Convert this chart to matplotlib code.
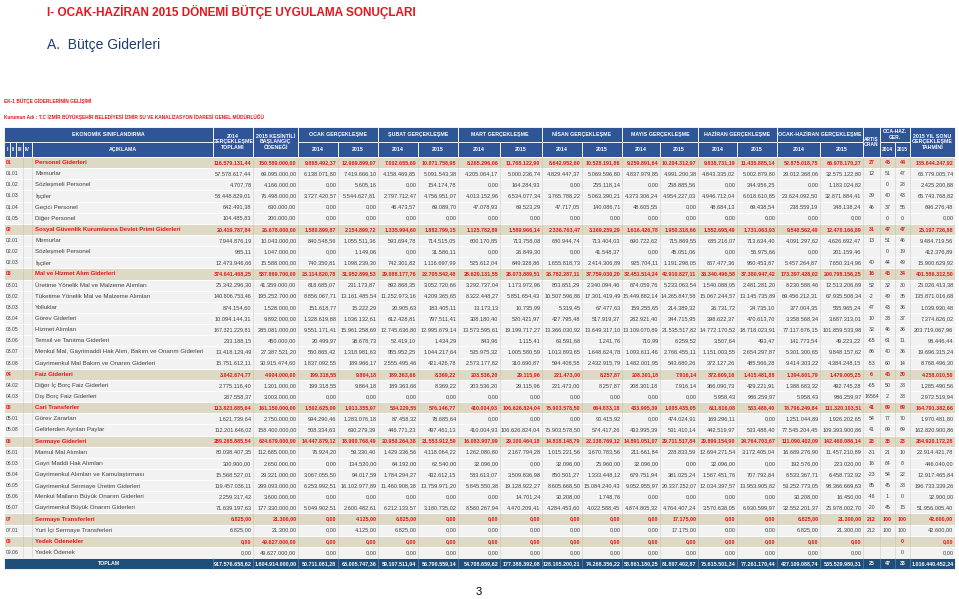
import matplotlib.pyplot as plt
from matplotlib.patches import Rectangle

plt.rcParams['font.family'] = ['Liberation Sans', 'DejaVu Sans']

title = "I- OCAK-HAZİRAN 2015 DÖNEMİ BÜTÇE UYGULAMA SONUÇLARI"
subtitle = "A.  Bütçe Giderleri"
note1 = "EK-1 BÜTÇE GİDERLERİNİN GELİŞİMİ"
note2 = ("Kurumun Adı : T.C İZMİR BÜYÜKŞEHİR BELEDİYESİ İZMİR SU VE KANALİZASYON "
         "İDARESİ GENEL MÜDÜRLÜĞÜ")

codes = ["01", "01.01", "01.02", "01.03", "01.04", "01.05",
         "02", "02.01", "02.02", "02.03",
         "03", "03.01", "03.02", "03.03", "03.04", "03.05", "03.06", "03.07", "03.08",
         "04", "04.02", "04.03",
         "05", "05.01", "05.08",
         "06", "06.01", "06.03", "06.04", "06.05", "06.06", "06.07",
         "07", "07.01", "09", "09.06"]

names = ["Personel Giderleri", "Memurlar", "Sözleşmeli Personel", "İşçiler",
         "Geçici Personel", "Diğer Personel",
         "Sosyal Güvenlik Kurumlarına Devlet Primi Giderleri", "Memurlar",
         "Sözleşmeli Personel", "İşçiler",
         "Mal ve Hizmet Alım Giderleri", "Üretime Yönelik Mal ve Malzeme Alımları",
         "Tüketime Yönelik Mal ve Malzeme Alımları", "Yolluklar", "Görev Giderleri",
         "Hizmet Alımları", "Temsil ve Tanıtma Giderleri",
         "Menkul Mal, Gayrimaddi Hak Alım, Bakım ve Onarım Giderleri",
         "Gayrimenkul Mal Bakım ve Onarım Giderleri",
         "Faiz Giderleri", "Diğer İç Borç Faiz Giderleri", "Dış Borç Faiz Giderleri",
         "Cari Transferler", "Görev Zararları", "Gelirlerden Ayrılan Paylar",
         "Sermaye Giderleri", "Mamul Mal Alımları", "Gayri Maddi Hak Alımları",
         "Gayrimenkul Alımları ve Kamulaştırması", "Gayrimenkul Sermaye Üretim Giderleri",
         "Menkul Malların Büyük Onarım Giderleri", "Gayrimenkul Büyük Onarım Giderleri",
         "Sermaye Transferleri", "Yurt İçi Sermaye Transferleri",
         "Yedek Ödenekler", "Yedek Ödenek"]

# last entry of every column is the TOPLAM row
gerc_2014 = ["116.579.131,44", "57.578.617,44", "4.707,78", "58.448.829,01", "642.491,38", "104.485,83",
             "20.419.787,84", "7.944.876,19", "985,11", "12.473.946,66",
             "374.641.468,25", "25.342.296,30", "140.806.753,46", "874.154,60", "10.094.144,31",
             "167.321.229,81", "233.188,15", "13.418.129,49", "15.751.612,11",
             "3.042.674,77", "2.775.116,40", "267.558,37",
             "113.823.885,64", "1.621.739,64", "112.201.646,02",
             "289.265.885,54", "80.038.407,35", "300.900,00", "15.568.527,01", "119.457.036,11",
             "2.259.317,42", "71.639.197,63",
             "6.825,00", "6.825,00", "0,00", "0,00",
             "917.576.658,62"]
odenek_2015 = ["150.589.000,00", "69.095.000,00", "4.166.000,00", "76.498.000,00", "630.000,00", "200.000,00",
               "26.678.000,00", "10.043.000,00", "1.047.000,00", "15.588.000,00",
               "587.869.700,00", "41.359.000,00", "195.252.700,00", "1.528.000,00", "9.892.000,00",
               "285.081.000,00", "450.000,00", "27.387.521,20", "30.915.474,60",
               "4.904.000,00", "1.301.000,00", "3.003.000,00",
               "161.150.000,00", "2.750.000,00", "158.400.000,00",
               "624.679.000,00", "112.685.000,00", "2.650.000,00", "29.321.000,00", "299.093.000,00",
               "3.600.000,00", "177.330.000,00",
               "21.300,00", "21.300,00", "49.627.000,00", "49.627.000,00",
               "1.604.914.000,00"]
ocak_2014 = ["9.865.492,37", "6.138.071,80", "0,00", "3.727.420,57", "0,00", "0,00",
             "1.580.899,87", "840.548,56", "0,00", "740.350,81",
             "23.114.820,78", "818.685,07", "8.856.067,71", "151.618,77", "1.328.619,88",
             "9.551.171,41", "20.499,97", "550.865,42", "1.837.092,55",
             "199.318,55", "199.318,55", "0,00",
             "1.502.625,09", "994.290,46", "508.334,63",
             "14.447.879,12", "76.924,20", "0,00", "3.067.055,50", "6.253.992,51", "0,00", "5.049.902,51",
             "0,00", "0,00", "0,00", "0,00",
             "50.711.081,28"]
ocak_2015 = ["12.969.899,07", "7.419.666,10", "5.605,16", "5.544.627,81", "0,00", "0,00",
             "2.154.899,72", "1.055.511,36", "1.149,06", "1.098.239,30",
             "31.952.899,53", "231.173,87", "13.161.485,54", "15.222,29", "1.036.132,61",
             "15.961.258,69", "38.678,73", "1.318.981,63", "189.966,17",
             "9.864,18", "9.864,18", "0,00",
             "1.913.355,97", "1.283.076,18", "630.279,39",
             "18.990.768,49", "59.330,40", "134.520,00", "94.017,59", "16.102.977,89", "0,00", "2.600.482,61",
             "4.125,00", "4.125,00", "0,00", "0,00",
             "68.005.747,36"]
subat_2014 = ["7.002.655,69", "4.158.469,85", "0,00", "2.797.712,47", "46.473,57", "0,00",
              "1.335.994,60", "593.694,78", "0,00", "742.301,82",
              "29.088.177,76", "892.868,35", "11.252.973,16", "20.905,63", "612.428,81",
              "12.745.636,80", "52.419,10", "955.952,25", "2.555.495,46",
              "189.363,66", "189.363,66", "0,00",
              "534.229,55", "87.458,32", "446.771,23",
              "20.950.264,38", "1.429.336,56", "64.192,00", "1.784.294,27", "11.460.908,38", "0,00", "6.212.133,57",
              "6.825,00", "6.825,00", "0,00", "0,00",
              "59.107.511,04"]
subat_2015 = ["10.071.758,98", "5.091.543,38", "154.174,78", "4.756.951,07", "69.089,70", "0,00",
              "1.882.799,15", "714.515,05", "31.586,11", "1.116.697,99",
              "22.705.542,48", "3.052.720,66", "4.209.365,65", "183.405,11", "797.511,41",
              "12.995.679,14", "1.434,29", "1.044.217,64", "421.426,78",
              "8.369,22", "8.369,22", "0,00",
              "576.146,77", "78.685,64", "497.461,13",
              "21.553.912,59", "4.118.064,22", "62.540,00", "432.612,15", "13.759.971,20", "0,00", "3.180.735,02",
              "0,00", "0,00", "0,00", "0,00",
              "56.790.559,14"]
mart_2014 = ["8.265.296,06", "4.205.064,17", "0,00", "4.013.152,96", "47.078,93", "0,00",
             "1.125.782,89", "600.170,85", "0,00", "525.612,04",
             "28.620.131,55", "3.292.737,04", "8.322.448,27", "13.173,13", "308.180,40",
             "13.573.595,61", "843,96", "535.975,32", "2.573.177,82",
             "203.536,20", "203.536,20", "0,00",
             "410.004,93", "0,00", "410.004,93",
             "16.083.907,99", "1.262.080,80", "32.096,00", "583.613,07", "5.845.550,38", "0,00", "8.560.267,94",
             "0,00", "0,00", "0,00", "0,00",
             "54.708.659,62"]
mart_2015 = ["11.768.122,90", "5.000.236,74", "164.284,93", "6.534.077,34", "69.523,29", "0,00",
             "1.589.966,14", "713.758,08", "26.849,30", "849.328,86",
             "28.073.889,51", "1.173.972,96", "5.851.654,43", "10.735,99", "520.421,97",
             "19.199.717,27", "1.115,41", "1.005.580,59", "310.690,87",
             "29.115,96", "29.115,96", "0,00",
             "106.626.824,04", "0,00", "106.626.824,04",
             "29.100.464,18", "2.167.794,28", "0,00", "3.509.836,98", "19.128.922,27", "14.701,24", "4.470.209,41",
             "0,00", "0,00", "0,00", "0,00",
             "177.388.392,08"]
nisan_2014 = ["8.642.952,60", "4.829.447,37", "0,00", "3.765.788,22", "47.717,05", "0,00",
              "2.336.763,47", "680.944,74", "0,00", "1.655.818,73",
              "26.782.287,11", "803.651,29", "10.507.596,86", "5.319,45", "427.795,48",
              "13.366.030,92", "63.591,68", "1.013.893,65", "594.408,58",
              "221.473,00", "221.473,00", "0,00",
              "75.903.578,50", "0,00", "75.903.578,50",
              "14.818.148,79", "1.015.221,56", "32.096,00", "850.501,27", "8.605.668,50", "30.208,00", "4.284.453,60",
              "0,00", "0,00", "0,00", "0,00",
              "128.105.200,21"]
nisan_2015 = ["10.528.191,86", "5.069.596,80", "255.118,14", "5.063.390,21", "140.086,71", "0,00",
              "3.169.259,29", "713.404,03", "41.548,37", "2.414.306,89",
              "37.759.030,20", "2.340.094,46", "17.301.419,49", "67.477,63", "517.919,37",
              "13.649.317,10", "1.241,76", "1.648.624,78", "2.432.915,79",
              "8.257,87", "8.257,87", "0,00",
              "664.833,18", "90.415,92", "574.417,26",
              "22.138.769,12", "3.670.783,56", "25.960,00", "1.333.448,12", "15.084.240,43", "1.748,76", "4.022.588,45",
              "0,00", "0,00", "0,00", "0,00",
              "74.268.356,22"]
mayis_2014 = ["9.259.891,64", "4.837.979,85", "0,00", "4.373.306,24", "48.605,55", "0,00",
              "1.616.426,78", "690.722,62", "0,00", "925.704,11",
              "32.451.514,24", "874.059,76", "15.449.882,14", "159.255,65", "282.921,40",
              "13.109.070,89", "710,99", "1.093.611,46", "1.482.001,95",
              "208.301,18", "208.301,18", "0,00",
              "433.995,39", "0,00", "433.995,39",
              "14.891.051,07", "211.661,84", "32.096,00", "679.751,94", "9.052.955,97", "0,00", "4.874.805,32",
              "0,00", "0,00", "0,00", "0,00",
              "58.861.180,25"]
mayis_2015 = ["10.204.312,97", "4.991.200,38", "258.885,56", "4.954.227,03", "0,00", "0,00",
              "1.950.318,66", "715.869,55", "45.051,06", "1.191.298,05",
              "42.910.827,11", "5.233.063,54", "14.265.847,58", "214.389,32", "344.715,95",
              "21.535.517,82", "6.259,52", "2.766.455,11", "543.680,26",
              "7.916,14", "7.916,14", "0,00",
              "1.005.435,05", "474.024,91", "531.410,14",
              "29.711.517,84", "228.833,59", "0,00", "381.025,24", "20.337.252,07", "0,00", "4.764.407,24",
              "17.175,00", "17.175,00", "0,00", "0,00",
              "81.807.402,87"]
haziran_2014 = ["9.838.731,19", "4.843.335,02", "0,00", "4.946.712,04", "48.684,13", "0,00",
                "1.552.695,49", "685.216,07", "0,00", "867.477,36",
                "33.340.496,58", "1.540.088,05", "15.067.244,57", "26.731,72", "398.622,37",
                "14.772.170,52", "3.507,64", "1.151.003,55", "372.127,26",
                "372.609,16", "366.090,73", "5.958,43",
                "611.816,08", "169.296,11", "442.519,97",
                "29.899.154,90", "12.694.271,54", "32.096,00", "1.567.451,76", "12.034.397,57", "0,00", "3.570.638,05",
                "0,00", "0,00", "0,00", "0,00",
                "75.615.501,34"]
haziran_2015 = ["11.435.885,14", "5.002.879,80", "344.956,25", "6.018.610,85", "69.438,54", "0,00",
                "1.731.063,93", "713.634,40", "56.975,66", "960.453,87",
                "37.380.947,42", "2.481.281,20", "13.145.735,89", "24.735,10", "470.613,70",
                "18.718.023,91", "493,47", "2.654.297,87", "485.566,28",
                "1.415.481,88", "429.221,91", "986.259,97",
                "533.488,40", "0,00", "533.488,40",
                "24.764.703,67", "3.172.405,04", "0,00", "707.792,84", "13.953.905,82", "0,00", "6.930.599,97",
                "0,00", "0,00", "0,00", "0,00",
                "77.261.170,44"]
oh_2014 = ["52.875.018,75", "29.012.368,06", "0,00", "23.624.092,50", "238.559,19", "0,00",
           "9.548.562,49", "4.091.297,62", "0,00", "5.457.264,87",
           "173.397.428,02", "8.230.588,46", "69.456.212,31", "377.004,35", "3.358.568,34",
           "77.117.676,15", "141.773,54", "5.301.300,65", "9.414.303,22",
           "1.394.601,79", "1.388.683,32", "5.958,43",
           "78.796.249,84", "1.251.044,89", "77.545.204,45",
           "111.090.402,09", "16.689.276,90", "192.576,00", "8.533.367,71", "53.252.773,05", "30.208,00", "32.552.201,37",
           "6.825,00", "6.825,00", "0,00", "0,00",
           "427.109.088,74"]
oh_2015 = ["66.978.170,27", "32.575.122,80", "1.183.024,82", "32.871.884,41", "348.138,24", "0,00",
           "12.478.166,89", "4.626.692,47", "201.159,46", "7.650.314,96",
           "200.798.156,25", "12.513.206,69", "67.935.508,34", "555.965,24", "3.687.313,01",
           "101.859.533,98", "49.223,22", "9.848.157,62", "4.384.248,15",
           "1.479.005,25", "492.745,28", "986.259,97",
           "111.320.103,51", "1.926.202,65", "109.393.900,86",
           "142.460.086,14", "11.457.210,89", "223.020,00", "6.458.732,92", "98.366.669,63", "16.450,00", "25.978.002,70",
           "21.300,00", "21.300,00", "0,00", "0,00",
           "535.529.980,31"]
artis = ["27", "12", "", "39", "46", "", "31", "13", "", "40",
         "16", "52", "-2", "47", "10", "32", "-65", "86", "-53",
         "6", "-65", "16564", "41", "54", "41",
         "28", "-31", "16", "-23", "85", "-46", "-20",
         "212", "212", "", "", "25"]
ger_2014 = ["45", "51", "0", "40", "37", "0", "47", "51", "0", "44",
            "46", "32", "49", "43", "33", "46", "61", "40", "60",
            "46", "50", "2", "69", "77", "69",
            "38", "21", "64", "54", "45", "1", "45",
            "100", "100", "", "", "47"]
ger_2015 = ["44", "47", "28", "43", "55", "0", "47", "46", "19", "49",
            "34", "30", "35", "36", "37", "36", "11", "36", "14",
            "30", "38", "33", "69", "70", "69",
            "23", "10", "8", "22", "33", "0", "15",
            "100", "100", "0", "0", "33"]
tahmin = ["135.644.247,92", "66.779.005,74", "2.425.200,88", "65.743.768,82", "696.276,48", "0,00",
          "25.197.726,88", "9.484.719,56", "412.376,89", "15.900.629,92",
          "401.586.312,50", "25.026.413,38", "135.871.016,68", "1.039.930,48", "7.374.626,02",
          "203.719.067,96", "98.446,44", "19.696.315,24", "8.768.496,30",
          "4.258.010,50", "1.285.490,56", "2.972.519,94",
          "164.791.382,66", "1.970.481,80", "162.820.900,86",
          "284.920.172,28", "22.914.421,78", "446.040,00", "12.917.465,84", "196.733.339,26",
          "32.900,00", "51.956.005,40",
          "42.600,00", "42.600,00", "0,00", "0,00",
          "1.016.440.452,24"]

months = ["OCAK", "ŞUBAT", "MART", "NİSAN", "MAYIS", "HAZİRAN", "OCAK-HAZİRAN"]

columns = [gerc_2014, odenek_2015, ocak_2014, ocak_2015, subat_2014, subat_2015,
           mart_2014, mart_2015, nisan_2014, nisan_2015, mayis_2014, mayis_2015,
           haziran_2014, haziran_2015, oh_2014, oh_2015, artis, ger_2014, ger_2015, tahmin]

# layout in pixels
edges = [213, 253, 298, 338, 378, 418, 458, 500, 542, 582, 622, 660, 698, 737,
         777, 820, 863, 880, 895, 910, 955]
left = 4
head_top, head_mid, head_bot = 127, 142, 157
row_h = 11.14

head_blue = '#2f5597'
total_blue = '#1f4e79'
beige = '#ddd9c4'
light = '#f2f2f2'
red = '#e8141b'
grey_txt = '#404040'

fig = plt.figure(figsize=(9.59, 5.99), dpi=100)
ax = fig.add_axes([0, 0, 1, 1])
ax.set_xlim(0, 959)
ax.set_ylim(599, 0)
ax.axis('off')


def box(x0, x1, y0, y1, fc, ec='white', lw=0.6):
    ax.add_patch(Rectangle((x0, y0), x1 - x0, y1 - y0, facecolor=fc,
                           edgecolor=ec, linewidth=lw))


def htext(x0, x1, y0, y1, s, size=3.8):
    ax.text((x0 + x1) / 2, (y0 + y1) / 2, s, color='white', fontsize=size,
            fontweight='bold', ha='center', va='center', linespacing=1.15)


def fit(s, width, base):
    # rough Arial-like widths, shrink a number only when it would spill over its cell
    em = sum(0.278 if c in '.,' else 0.556 for c in s)
    if em == 0:
        return base
    return min(base, (width - 2.5) / (em * 100 / 72))


# titles
ax.text(47, 12, title, fontsize=8.5, fontweight='bold', color=red, va='center')
ax.text(47, 45, subtitle, fontsize=10, color='#1f3b73', va='center')
ax.text(4, 101, note1, fontsize=3.4, fontweight='bold', color=red, va='center')
ax.text(4, 117, note2, fontsize=3.4, fontweight='bold', color=red, va='center')
ax.text(479, 592, "3", fontsize=8, color='black', ha='center', va='center')

# header
box(left, edges[0], head_top, head_mid, head_blue)
htext(left, edges[0], head_top, head_mid, "EKONOMİK SINIFLANDIRMA")
for a, b, s in [(4, 10, "I"), (10, 16, "II"), (16, 23, "III"), (23, 32, "IV"), (32, 213, "AÇIKLAMA")]:
    box(a, b, head_mid, head_bot, head_blue)
    htext(a, b, head_mid, head_bot, s)
box(edges[0], edges[1], head_top, head_bot, head_blue)
htext(edges[0], edges[1], head_top, head_bot, "2014\nGERÇEKLEŞME\nTOPLAMI")
box(edges[1], edges[2], head_top, head_bot, head_blue)
htext(edges[1], edges[2], head_top, head_bot, "2015 KESİNTİLİ\nBAŞLANGIÇ\nÖDENEĞİ")
for k, m in enumerate(months):
    x0, xm, x1 = edges[2 + 2 * k], edges[3 + 2 * k], edges[4 + 2 * k]
    box(x0, x1, head_top, head_mid, head_blue)
    htext(x0, x1, head_top, head_mid, m + " GERÇEKLEŞME")
    box(x0, xm, head_mid, head_bot, head_blue)
    htext(x0, xm, head_mid, head_bot, "2014")
    box(xm, x1, head_mid, head_bot, head_blue)
    htext(xm, x1, head_mid, head_bot, "2015")
box(edges[16], edges[17], head_top, head_bot, head_blue)
htext(edges[16], edges[17], head_top, head_bot, "ARTIŞ\nORAN", size=3.5)
box(edges[17], edges[19], head_top, head_mid, head_blue)
htext(edges[17], edges[19], head_top, head_mid, "OCA-HAZ.\nGER.", size=3.5)
box(edges[17], edges[18], head_mid, head_bot, head_blue)
htext(edges[17], edges[18], head_mid, head_bot, "2014", size=3.5)
box(edges[18], edges[19], head_mid, head_bot, head_blue)
htext(edges[18], edges[19], head_mid, head_bot, "2015", size=3.5)
box(edges[19], edges[20], head_top, head_bot, head_blue)
htext(edges[19], edges[20], head_top, head_bot, "2015 YIL SONU\nGERÇEKLEŞME\nTAHMİNİ")

# body rows
n = len(codes)
for i in range(n + 1):
    y0 = head_bot + i * row_h
    y1 = y0 + row_h
    yc = (y0 + y1) / 2
    total = i == n
    main = (not total) and len(codes[i]) == 2
    fc = total_blue if total else (beige if main else light)
    ax.add_patch(Rectangle((left, y0), edges[-1] - left, row_h, facecolor=fc,
                           edgecolor='white', linewidth=0.6))
    line_c = '#6f8fb8' if total else ('#c9c3a8' if main else '#cfcfcf')
    xs = ([edges[0]] if total else [23, 32]) + edges[1:-1]
    ax.vlines(xs, y0, y1, colors=line_c, linewidth=0.4)
    if total:
        color, weight = 'white', 'bold'
        ax.text((left + edges[0]) / 2, yc, "TOPLAM", color=color, fontsize=3.8,
                fontweight=weight, ha='center', va='center')
    else:
        color = red if main else grey_txt
        weight = 'bold' if main else 'normal'
        ax.text(6, yc, codes[i], color=color, fontsize=3.6, fontweight=weight, va='center')
        ax.text(35, yc, names[i], color=color, fontsize=4.4 if not main else 4.3,
                fontweight=weight, va='center')
    base = 3.9 if (total or main) else 4.1
    for j, col in enumerate(columns):
        x0, x1 = edges[j], edges[j + 1]
        if j in (16, 17, 18):
            ax.text((x0 + x1) / 2, yc, col[i], color=color,
                    fontsize=fit(col[i], x1 - x0, 3.8),
                    fontweight=weight, ha='center', va='center')
        else:
            ax.text(x1 - 1.5, yc, col[i], color=color,
                    fontsize=fit(col[i], x1 - x0, base),
                    fontweight=weight, ha='right', va='center')

fig.savefig("out.png", dpi=100)
